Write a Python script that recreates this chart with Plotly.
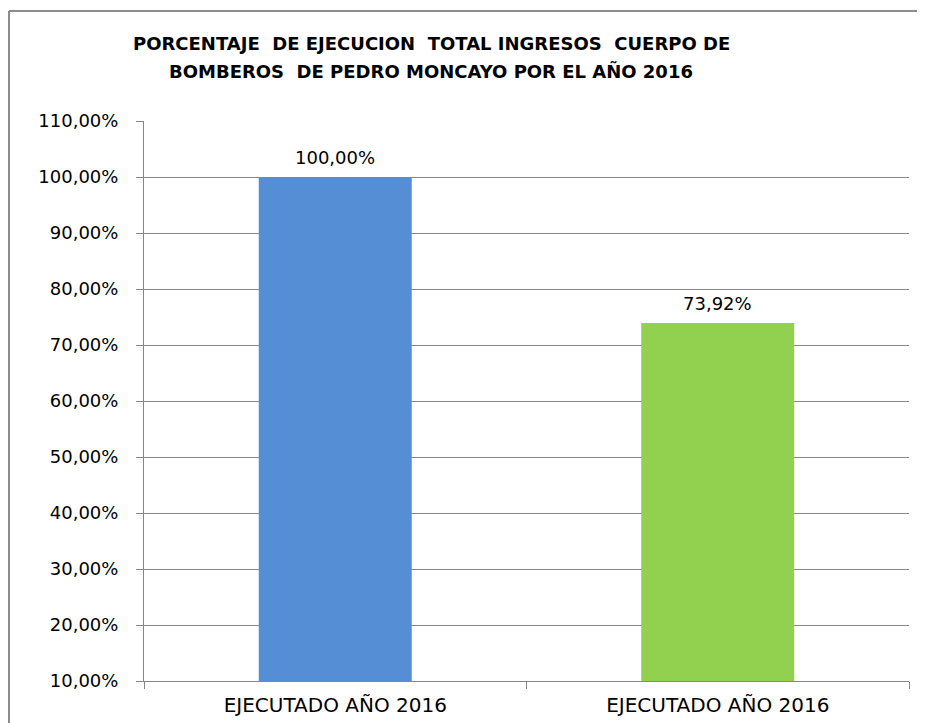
import plotly.graph_objects as go

categories = ["EJECUTADO AÑO 2016", "EJECUTADO AÑO 2016"]
values = [100.00, 73.92]
bar_colors = ["#558ED5", "#92D050"]
title_lines = ["PORCENTAJE  DE EJECUCION  TOTAL INGRESOS  CUERPO DE",
               "BOMBEROS  DE PEDRO MONCAYO POR EL AÑO 2016"]
y_ticks = [10, 20, 30, 40, 50, 60, 70, 80, 90, 100, 110]
y_ticklabels = ["10,00%", "20,00%", "30,00%", "40,00%", "50,00%", "60,00%",
                "70,00%", "80,00%", "90,00%", "100,00%", "110,00%"]
value_labels = ["100,00%", "73,92%"]

W, H = 925, 723
OFF = 7  # page body offset
L, R, T, B = 143 - OFF, 24, 120 - OFF, 50
pw, ph = W - L - R, H - T - B

pos = list(range(len(categories)))

fig = go.Figure(go.Bar(
    x=pos, y=values, width=0.4,
    marker=dict(color=bar_colors, line=dict(width=0)),
    hoverinfo="skip",
))

for p, v, t in zip(pos, values, value_labels):
    fig.add_annotation(x=p, y=v, text=t, showarrow=False, yanchor="bottom", yshift=7,
                       font=dict(family="DejaVu Sans", size=18, color="#000000"))

title_y = [42, 70]
for line, yy in zip(title_lines, title_y):
    fig.add_annotation(text="<b>" + line.replace("  ", "&nbsp; ") + "</b>",
                       xref="paper", yref="paper",
                       x=(430 - OFF - L) / pw, y=(H - B - (yy - OFF)) / ph,
                       xanchor="center", yanchor="middle", showarrow=False,
                       font=dict(family="DejaVu Sans", size=18, color="#000000"))

grid = "#868686"
fig.update_layout(
    width=W, height=H,
    margin=dict(l=L, r=R, t=T, b=B),
    paper_bgcolor="white", plot_bgcolor="white",
    showlegend=False,
    xaxis=dict(
        range=[-0.5, 1.5], tickvals=pos, ticktext=categories, ticks="",
        tickfont=dict(family="DejaVu Sans", size=20, color="#000000"),
        showgrid=False, zeroline=False,
        showline=True, linecolor=grid, linewidth=1,
        minor=dict(tick0=-0.5, dtick=1, ticks="outside", ticklen=7, tickcolor=grid, showgrid=False),
        ticklabelstandoff=6,
    ),
    yaxis=dict(
        range=[10, 110], tickvals=y_ticks, ticktext=y_ticklabels,
        tickfont=dict(family="DejaVu Sans", size=18, color="#000000"),
        showgrid=True, gridcolor=grid, gridwidth=1, zeroline=False,
        showline=True, linecolor=grid, linewidth=1,
        ticks="outside", ticklen=7, tickcolor=grid,
        ticklabelstandoff=14,
    ),
    shapes=[
        dict(type="line", xref="paper", yref="paper",
             x0=(8 - OFF - L) / pw, x1=(W + 20 - L) / pw,
             y0=(H - B - (10 - OFF)) / ph, y1=(H - B - (10 - OFF)) / ph,
             line=dict(color="#8c8c8c", width=2)),
        dict(type="line", xref="paper", yref="paper",
             x0=(8 - OFF - L) / pw, x1=(8 - OFF - L) / pw,
             y0=(H - B - (10 - OFF)) / ph, y1=-(B + 20) / ph,
             line=dict(color="#8c8c8c", width=2)),
    ],
)

fig.write_html("out.html")
